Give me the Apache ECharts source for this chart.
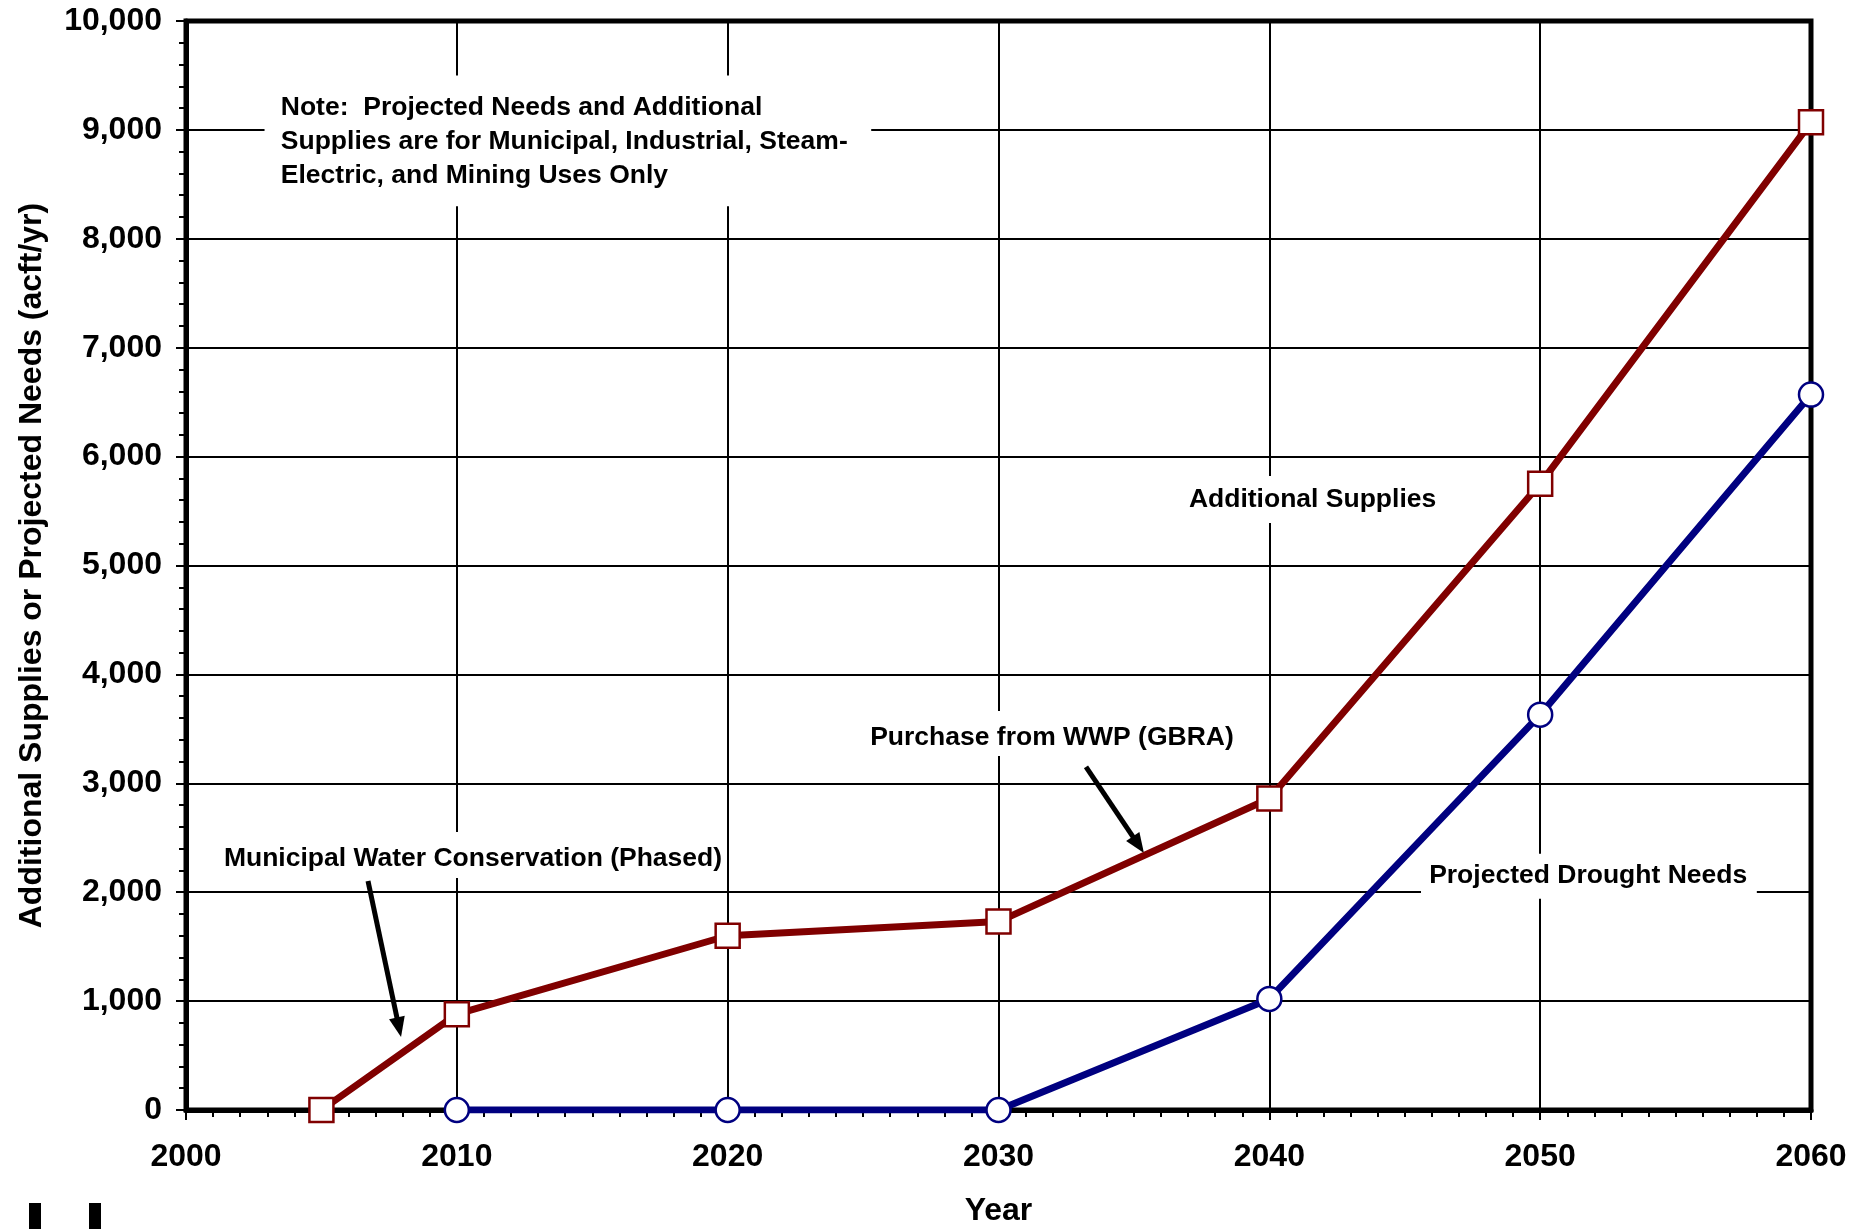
<!DOCTYPE html>
<html>
<head>
<meta charset="utf-8">
<script src="https://cdn.jsdelivr.net/npm/echarts@6/dist/echarts.min.js"></script>
<style>
html,body{margin:0;padding:0;background:#fff;}
#chart{width:1872px;height:1229px;}
</style>
</head>
<body>
<div id="chart"></div>
<script>
// ---- data ----
const supplyYears = [2005, 2010, 2020, 2030, 2040, 2050, 2060];
const supplyValues = [0, 880, 1600, 1730, 2860, 5750, 9070];
const needYears = [2010, 2020, 2030, 2040, 2050, 2060];
const needValues = [0, 0, 0, 1020, 3630, 6570];

const xAxisTitle = 'Year';
const yAxisTitle = 'Additional Supplies or Projected Needs (acft/yr)';
const noteLines = ['Note:  Projected Needs and Additional', 'Supplies are for Municipal, Industrial, Steam-', 'Electric, and Mining Uses Only'];
const labelMunicipal = 'Municipal Water Conservation (Phased)';
const labelPurchase = 'Purchase from WWP (GBRA)';
const labelSupplies = 'Additional Supplies';
const labelNeeds = 'Projected Drought Needs';

const FONT = '"Liberation Sans", Arial, Helvetica, sans-serif';
const RED = '#800000';
const BLUE = '#000080';

const chart = echarts.init(document.getElementById('chart'), null, {renderer: 'canvas'});

const option = {
  backgroundColor: '#ffffff',
  animation: false,
  grid: {left: 186, right: 61, top: 21, bottom: 119, containLabel: false, outerBoundsMode: 'none',
    show: true, borderColor: '#000', borderWidth: 5, backgroundColor: 'transparent'},
  xAxis: {
    type: 'value', min: 2000, max: 2060, interval: 10,
    name: xAxisTitle, nameLocation: 'middle', nameGap: 85,
    nameTextStyle: {fontFamily: FONT, fontWeight: 'bold', fontSize: 32, color: '#000'},
    axisLine: {show: true, onZero: false, lineStyle: {color: '#000', width: 5}},
    axisTick: {show: true, inside: false, length: 10, lineStyle: {color: '#000', width: 2}},
    minorTick: {show: true, splitNumber: 10, length: 7, lineStyle: {color: '#000', width: 2}},
    splitLine: {show: true, lineStyle: {color: '#000', width: 2}},
    axisLabel: {fontFamily: FONT, fontWeight: 'bold', fontSize: 32, color: '#000', margin: 31,
      formatter: v => String(v)}
  },
  yAxis: {
    type: 'value', min: 0, max: 10000, interval: 1000,
    name: yAxisTitle, nameLocation: 'middle', nameGap: 138, nameRotate: 90,
    nameTextStyle: {fontFamily: FONT, fontWeight: 'bold', fontSize: 32, color: '#000'},
    axisLine: {show: true, onZero: false, lineStyle: {color: '#000', width: 5}},
    axisTick: {show: true, inside: false, length: 10, lineStyle: {color: '#000', width: 2}},
    minorTick: {show: true, splitNumber: 5, length: 7, lineStyle: {color: '#000', width: 2}},
    splitLine: {show: true, lineStyle: {color: '#000', width: 2}},
    axisLabel: {fontFamily: FONT, fontWeight: 'bold', fontSize: 32, color: '#000', margin: 24,
      formatter: v => v.toLocaleString('en-US')}
  },
  series: [
    {
      name: labelSupplies, type: 'line', z: 5,
      data: supplyYears.map((y, i) => [y, supplyValues[i]]),
      lineStyle: {color: RED, width: 7},
      symbol: 'rect', symbolSize: 24,
      itemStyle: {color: '#fff', borderColor: RED, borderWidth: 2.5},
      emphasis: {disabled: true}
    },
    {
      name: labelNeeds, type: 'line', z: 5,
      data: needYears.map((y, i) => [y, needValues[i]]),
      lineStyle: {color: BLUE, width: 7},
      symbol: 'circle', symbolSize: 24,
      itemStyle: {color: '#fff', borderColor: BLUE, borderWidth: 2.5},
      emphasis: {disabled: true}
    }
  ]
};
chart.setOption(option);

// ---- annotations anchored in data space ----
function P(x, y) { return chart.convertToPixel({gridIndex: 0}, [x, y]); }
const g = [];
function box(x1, y1, x2, y2) {
  const a = P(x1, y1), b = P(x2, y2);
  g.push({type: 'rect', z: 3, silent: true,
    shape: {x: Math.min(a[0], b[0]), y: Math.min(a[1], b[1]), width: Math.abs(b[0] - a[0]), height: Math.abs(b[1] - a[1])},
    style: {fill: '#fff'}});
}
function label(text, x, y, size, lh) {
  const p = P(x, y);
  g.push({type: 'text', z: 4, silent: true, x: p[0], y: p[1] + 2,
    style: {text: text, fill: '#000', font: 'bold ' + size + 'px ' + FONT, align: 'left', verticalAlign: 'middle', lineHeight: lh || size}});
}
function arrow(x1, y1, x2, y2) {
  const a = P(x1, y1), b = P(x2, y2);
  const dx = b[0] - a[0], dy = b[1] - a[1], L = Math.hypot(dx, dy);
  const ux = dx / L, uy = dy / L, hl = 20, hw = 8;
  const bx = b[0] - ux * hl, by = b[1] - uy * hl;
  g.push({type: 'line', z: 4, silent: true, shape: {x1: a[0], y1: a[1], x2: bx + ux * 2, y2: by + uy * 2},
    style: {stroke: '#000', lineWidth: 5}});
  g.push({type: 'polygon', z: 4, silent: true,
    shape: {points: [[b[0], b[1]], [bx - uy * hw, by + ux * hw], [bx + uy * hw, by - ux * hw]]},
    style: {fill: '#000'}});
}

// Note box
box(2002.9, 9500, 2025.3, 8300);
label(noteLines.join('\n'), 2003.5, 8910, 26.5, 34);
// Municipal
box(2001.1, 2553, 2019.8, 2130);
label(labelMunicipal, 2001.4, 2323, 26.5);
arrow(2006.72, 2103, 2007.94, 670);
// Purchase
box(2024.9, 3664, 2039.0, 3251);
label(labelPurchase, 2025.26, 3434, 26.5);
arrow(2033.23, 3150, 2035.37, 2360);
// Additional Supplies
box(2036.7, 5822, 2046.4, 5390);
label(labelSupplies, 2037.03, 5620, 26.5);
// Projected Drought Needs
box(2045.6, 2352, 2058.0, 1939);
label(labelNeeds, 2045.9, 2167, 26.5);

// small black marks at lower-left corner of the page
g.push({type: 'rect', z: 4, silent: true, shape: {x: 29, y: 1203, width: 12, height: 26}, style: {fill: '#000'}});
g.push({type: 'rect', z: 4, silent: true, shape: {x: 89, y: 1203, width: 12, height: 26}, style: {fill: '#000'}});

chart.setOption({graphic: g});
</script>
</body>
</html>
